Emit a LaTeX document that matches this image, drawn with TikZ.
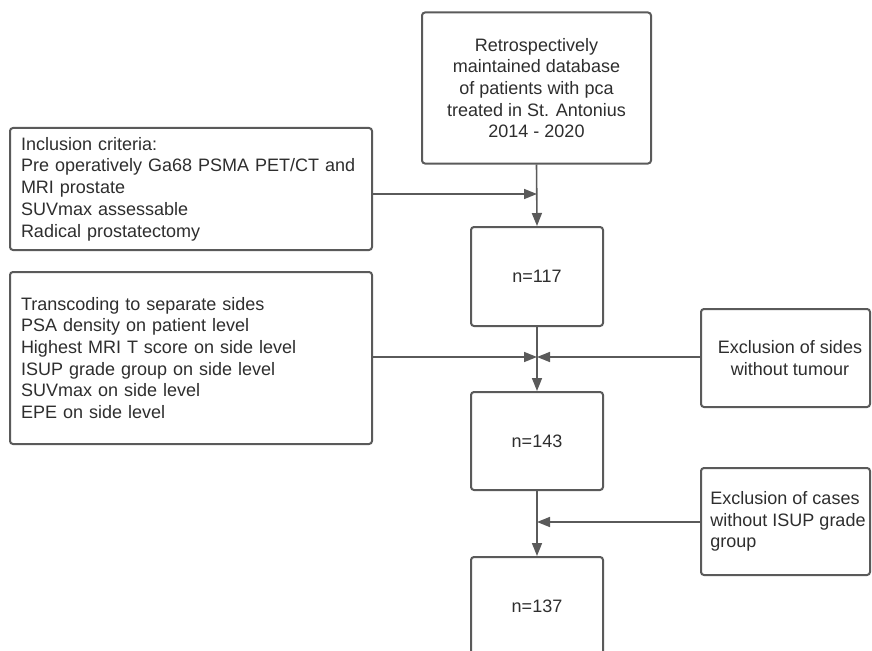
\documentclass[tikz,border=0pt]{standalone}
\usepackage{fontspec}
\setmainfont{Liberation Sans}
\usetikzlibrary{arrows.meta}
\definecolor{txt}{HTML}{2E2E2E}
\definecolor{ln}{HTML}{5A5A5A}
\begin{document}
\begin{tikzpicture}[x=1pt,y=-1pt,
  box/.style={draw=ln,line width=2pt,rounded corners=3pt,fill=white,text=txt,
    font=\fontsize{18}{21.7}\selectfont,inner sep=0pt},
  conn/.style={draw=ln,line width=1.6pt,-{Triangle[length=13pt,width=10pt]}}]
\useasboundingbox (0,0) rectangle (872,650);
\clip (0,0) rectangle (872,650);
\node[box,minimum width=229pt,minimum height=151pt,align=center] (top) at (536.5,88)
  {Retrospectively\\maintained database\\of patients with pca\\treated in St. Antonius\\2014 - 2020};
\node[box,minimum width=132pt,minimum height=99pt] (n117) at (537,276.5) {n=117};
\node[box,minimum width=132pt,minimum height=98pt] (n143) at (537,441) {n=143};
\node[box,minimum width=132pt,minimum height=98pt] (n137) at (537,606) {n=137};
\node[box,minimum width=362pt,minimum height=122pt,text width=340pt,align=left] (incl) at (191,189)
  {Inclusion criteria:\\Pre operatively Ga68 PSMA PET/CT and\\MRI prostate\\SUVmax assessable\\Radical prostatectomy};
\node[box,minimum width=362pt,minimum height=172pt,text width=340pt,align=left] (trans) at (191,358)
  {Transcoding to separate sides\\PSA density on patient level\\Highest MRI T score on side level\\ISUP grade group on side level\\SUVmax on side level\\EPE on side level\\[1pt]};
\node[box,minimum width=169pt,minimum height=98pt,align=center] (exs) at (785.5,358)
  {\hspace*{9pt}Exclusion of sides\\\hspace*{9pt}without tumour};
\node[box,minimum width=169pt,minimum height=107pt,align=left] (exc) at (785.5,521.5)
  {\hspace*{5pt}Exclusion of cases\\\hspace*{5pt}without ISUP grade\\\hspace*{5pt}group};
% connectors
\coordinate (j1) at (537,194);
\coordinate (j2) at (537,357);
\coordinate (j3) at (537,522);
\draw[conn] (top.south) -- (n117.north);
\draw[conn] (incl.east |- j1) -- (j1);
\draw[conn] (n117.south) -- (n143.north);
\draw[conn] (trans.east |- j2) -- (j2);
\draw[conn] (exs.west |- j2) -- (j2);
\draw[conn] (n143.south) -- (n137.north);
\draw[conn] (exc.west |- j3) -- (j3);
\end{tikzpicture}
\end{document}
